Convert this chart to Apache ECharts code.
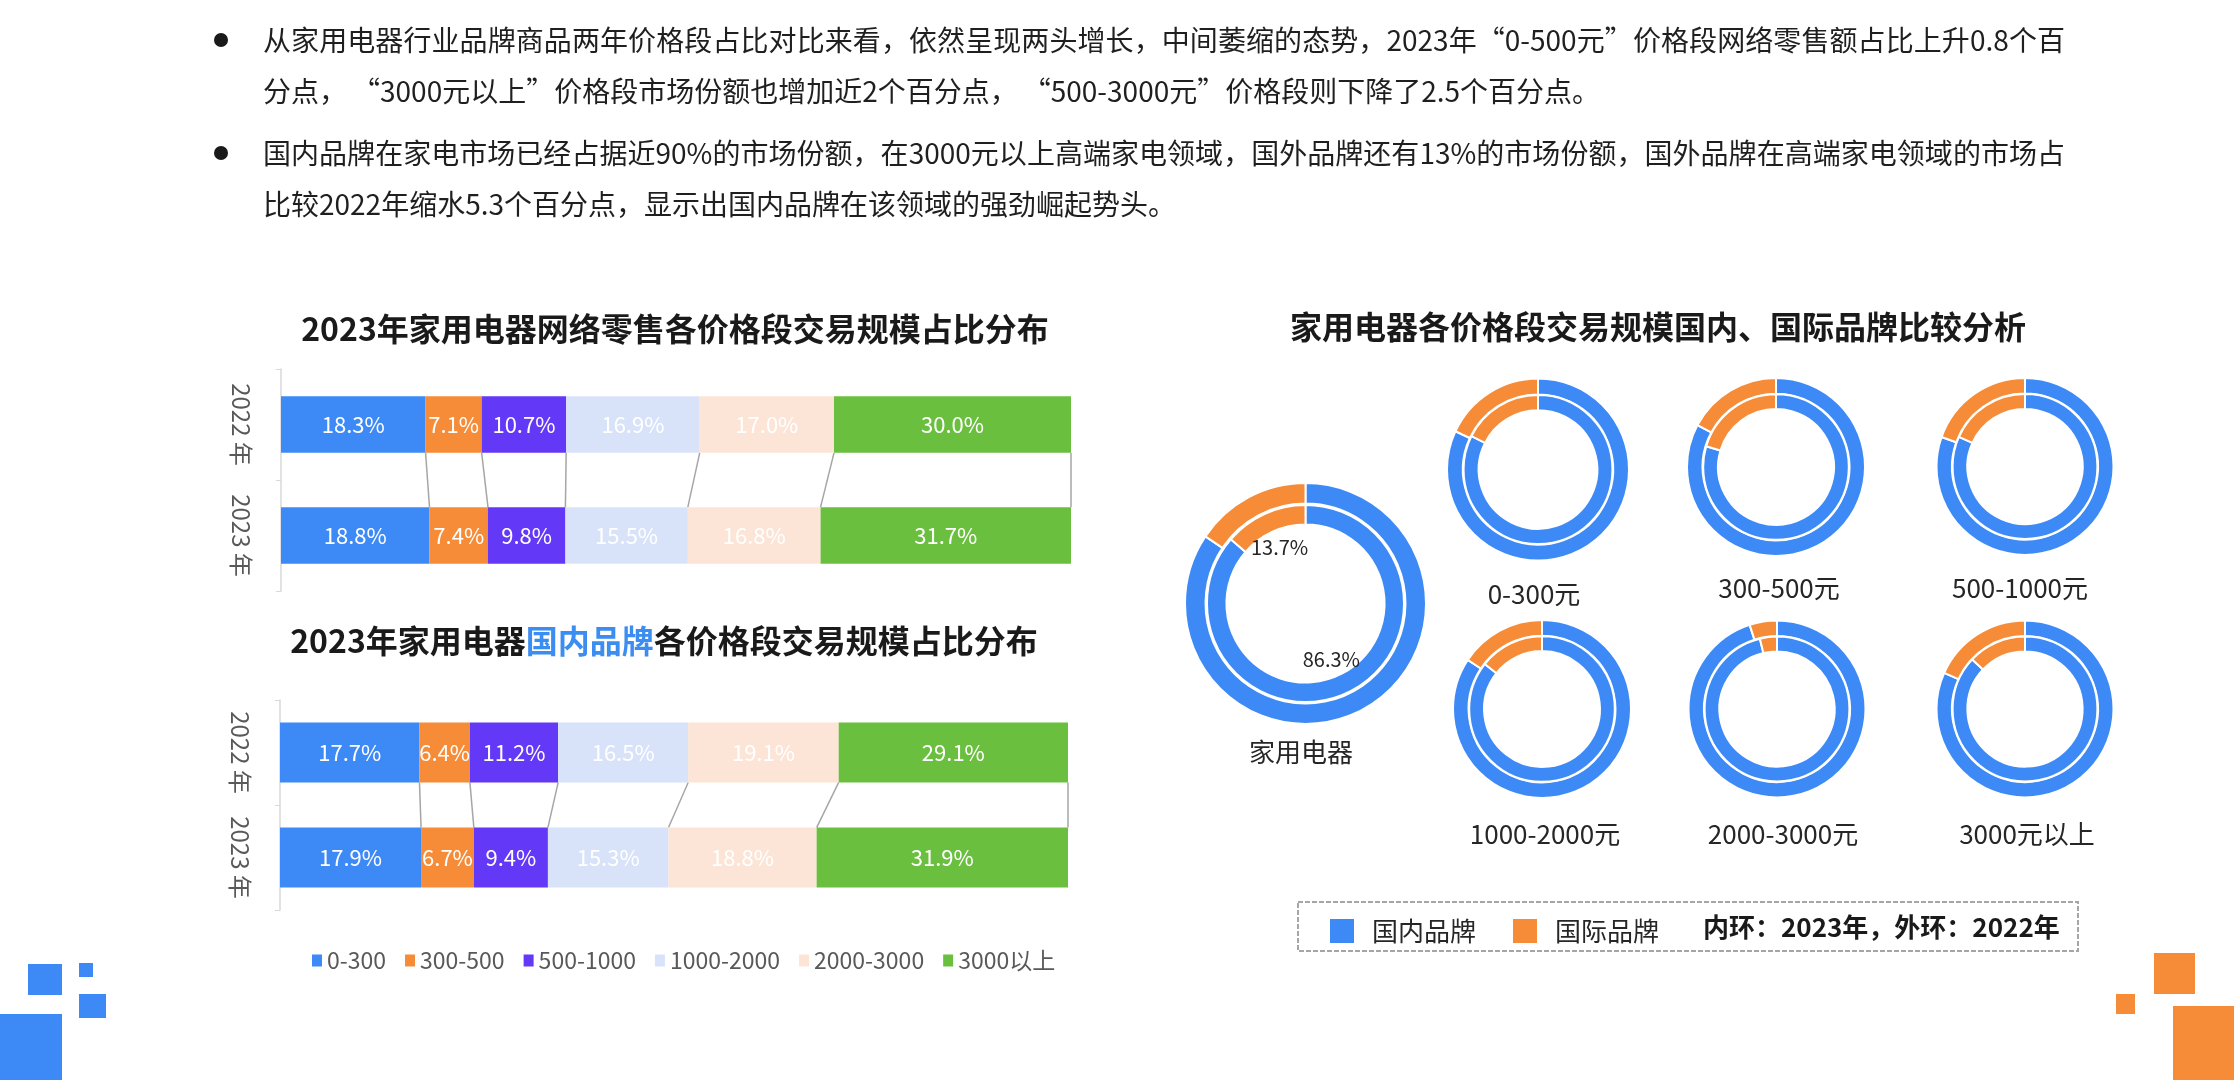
<!DOCTYPE html>
<html>
<head>
<meta charset="utf-8">
<script src="https://cdn.jsdelivr.net/npm/echarts@6/dist/echarts.min.js"></script>
<style>
  html, body { margin: 0; padding: 0; background: #fff; }
  #chart { position: absolute; left: 0; top: 0; width: 2234px; height: 1080px; }
  .notes { position: absolute; left: 263px; width: 1802px; font-family: "Noto Sans CJK SC", sans-serif;
           font-size: 28px; line-height: 51px; color: #1f1f1f; }
  .notes div { white-space: nowrap; }
  .notes .full { text-align: justify; text-align-last: justify; white-space: normal; }
  .notes .gap { display: inline-block; width: 5px; }
</style>
</head>
<body>
<div id="chart"></div>
<div class="notes" style="top:14px;">
  <div class="full">从家用电器行业品牌商品两年价格段占比对比来看，依然呈现两头增长，中间萎缩的态势，2023年“0-500元”价格段网络零售额占比上升0.8个百</div>
  <div>分点，<span class="gap"></span>“3000元以上”价格段市场份额也增加近2个百分点，<span class="gap"></span>“500-3000元”价格段则下降了2.5个百分点。</div>
</div>
<div class="notes" style="top:127px;">
  <div class="full">国内品牌在家电市场已经占据近90%的市场份额，在3000元以上高端家电领域，国外品牌还有13%的市场份额，国外品牌在高端家电领域的市场占</div>
  <div>比较2022年缩水5.3个百分点，显示出国内品牌在该领域的强劲崛起势头。</div>
</div>
<script>
// price bands and years for the two stacked bar charts
const priceBands = ['0-300', '300-500', '500-1000', '1000-2000', '2000-3000', '3000以上']
const years = ['2022 年', '2023 年']
// whole market, % share per band
const all2022 = [18.3, 7.1, 10.7, 16.9, 17.0, 30.0]
const all2023 = [18.8, 7.4, 9.8, 15.5, 16.8, 31.7]
// domestic brands, % share per band
const dom2022 = [17.7, 6.4, 11.2, 16.5, 19.1, 29.1]
const dom2023 = [17.9, 6.7, 9.4, 15.3, 18.8, 31.9]

// donuts: domestic vs international brand share (outer 2022, inner 2023)
const donutNames = ['家用电器', '0-300元', '300-500元', '500-1000元', '1000-2000元', '2000-3000元', '3000元以上']
const domestic2022 = [84.4, 81.9, 82.8, 80.4, 84.3, 95.0, 81.7]
const foreign2022 = [15.6, 18.1, 17.2, 19.6, 15.7, 5.0, 18.3]
const domestic2023 = [86.3, 82.4, 79.6, 81.7, 85.6, 96.2, 87.0]
const foreign2023 = [13.7, 17.6, 20.4, 18.3, 14.4, 3.8, 13.0]

const FONT = '"Noto Sans CJK SC", sans-serif'
const BLUE = '#3D8AF7'
const ORANGE = '#F68C38'
const bandColors = ['#3D8AF7', '#F68C38', '#6338F6', '#D8E3FA', '#FCE5D6', '#6BBF3F']

// [cx, cy, r] and label position of every donut
const donutLayout = [[1305.5, 603.5, 119.5], [1538, 469.5, 90], [1776, 467, 88], [2025, 466.5, 87.5],
  [1542, 709, 88], [1777, 709, 87.5], [2025, 709, 87.5]]
const donutLabelPos = [[1301, 752], [1534, 594], [1779, 588], [2020, 588], [1545, 834], [1783, 834], [2027, 834]]

const chart = echarts.init(document.getElementById('chart'))

function barSeries(v22, v23, idx, stack, width) {
  return priceBands.map((name, i) => ({
    name: name,
    type: 'bar',
    stack: stack,
    xAxisIndex: idx,
    yAxisIndex: idx,
    barWidth: width,
    data: [v22[i], v23[i]],
    itemStyle: { color: bandColors[i] },
    label: {
      show: true,
      position: 'inside',
      color: '#fff',
      fontSize: 22,
      fontFamily: FONT,
      formatter: p => p.value.toFixed(1) + '%'
    },
    emphasis: { disabled: true }
  }))
}

// gray "series lines" joining the segment edges of the two bars
function connectorSeries(v22, v23, idx, ratio) {
  let c1 = 0
  let c2 = 0
  const data = v22.map((v, i) => {
    c1 += v
    c2 += v23[i]
    return [c1, c2, 0]
  })
  return {
    type: 'custom',
    xAxisIndex: idx,
    yAxisIndex: idx,
    silent: true,
    clip: false,
    encode: { x: [0, 1], y: 2 },
    data: data,
    renderItem: function (params, api) {
      const p1 = api.coord([api.value(0), 0])
      const p2 = api.coord([api.value(1), 1])
      const half = api.size([0, 1])[1] * ratio / 2
      return {
        type: 'line',
        shape: { x1: p1[0], y1: p1[1] + half, x2: p2[0], y2: p2[1] - half },
        style: { stroke: '#A6A6A6', lineWidth: 1.5 }
      }
    }
  }
}

function donutSeries() {
  const list = []
  donutNames.forEach((name, i) => {
    const [cx, cy, r] = donutLayout[i]
    const common = {
      type: 'pie',
      center: [cx, cy],
      silent: true,
      label: { show: false },
      labelLine: { show: false },
      emphasis: { disabled: true },
      itemStyle: { borderColor: '#fff', borderWidth: 2 }
    }
    list.push(Object.assign({}, common, {
      name: name + ' 2022',
      radius: [r * 0.845 - 1, r + 1],
      data: [
        { name: '国内品牌', value: domestic2022[i], itemStyle: { color: BLUE } },
        { name: '国际品牌', value: foreign2022[i], itemStyle: { color: ORANGE } }
      ]
    }))
    list.push(Object.assign({}, common, {
      name: name + ' 2023',
      radius: [r * 0.67 - 1, r * 0.816 + 1],
      data: [
        { name: '国内品牌', value: domestic2023[i], itemStyle: { color: BLUE } },
        { name: '国际品牌', value: foreign2023[i], itemStyle: { color: ORANGE } }
      ]
    }))
  })
  // percentage labels inside the big donut (2023 ring)
  const [cx, cy] = donutLayout[0]
  list.push({
    type: 'pie',
    center: [cx, cy],
    radius: [40, 78],
    silent: true,
    emphasis: { disabled: true },
    itemStyle: { color: 'rgba(0,0,0,0)' },
    label: { show: true, position: 'inside', formatter: '{c}%', color: '#262626', fontSize: 20, fontFamily: FONT },
    labelLine: { show: false },
    data: [
      { name: '国内品牌', value: domestic2023[0] },
      { name: '国际品牌', value: foreign2023[0] }
    ]
  })
  return list
}

const titleStyle = { fontSize: 32, fontWeight: 'bold', color: '#1a1a1a', fontFamily: FONT }

const titles = [
  { text: '2023年家用电器网络零售各价格段交易规模占比分布', left: 675, top: 329, textStyle: titleStyle },
  {
    text: '2023年家用电器{b|国内品牌}各价格段交易规模占比分布',
    left: 664,
    top: 641,
    textStyle: Object.assign({}, titleStyle, {
      rich: { b: { fontSize: 32, fontWeight: 'bold', color: '#3B8DF2', fontFamily: FONT } }
    })
  },
  { text: '家用电器各价格段交易规模国内、国际品牌比较分析', left: 1658, top: 327, textStyle: titleStyle }
].concat(donutNames.map((name, i) => ({
  text: name,
  left: donutLabelPos[i][0],
  top: donutLabelPos[i][1],
  textStyle: { fontSize: 26, fontWeight: 'normal', color: '#262626', fontFamily: FONT }
}))).map(t => Object.assign({ textAlign: 'center', textVerticalAlign: 'middle', padding: 0 }, t))

function yAxis(idx) {
  return {
    type: 'category',
    gridIndex: idx,
    data: years,
    inverse: true,
    axisLine: { lineStyle: { color: '#D9D9D9', width: 1.5 } },
    axisTick: { show: true, length: 5, lineStyle: { color: '#D9D9D9' } },
    axisLabel: { interval: 0, rotate: -90, margin: 28, fontSize: 24, color: '#595959', fontFamily: FONT }
  }
}

function xAxis(idx) {
  return { type: 'value', gridIndex: idx, min: 0, max: 100, show: false }
}

const blueBlocks = [[28, 964, 34, 31], [79, 963, 14, 14], [79, 994, 27, 24], [0, 1014, 62, 66]]
const orangeBlocks = [[2154, 953, 41, 41], [2116, 994, 19, 20], [2173, 1006, 61, 74]]

const graphics = []
blueBlocks.concat(orangeBlocks).forEach((b, i) => {
  graphics.push({
    type: 'rect',
    shape: { x: b[0], y: b[1], width: b[2], height: b[3] },
    style: { fill: i < blueBlocks.length ? BLUE : ORANGE },
    silent: true
  })
})
;[40, 153].forEach(y => {
  graphics.push({ type: 'circle', shape: { cx: 221, cy: y, r: 7 }, style: { fill: '#1a1a1a' }, silent: true })
})
graphics.push({
  type: 'rect',
  shape: { x: 1298, y: 902, width: 780, height: 49 },
  style: { fill: 'none', stroke: '#A6A6A6', lineWidth: 2, lineDash: [5, 2] },
  silent: true
})
graphics.push({
  type: 'text',
  x: 1703,
  y: 927,
  style: {
    text: '内环：2023年，外环：2022年',
    fill: '#1a1a1a',
    fontSize: 26,
    fontWeight: 'bold',
    fontFamily: FONT,
    verticalAlign: 'middle'
  },
  silent: true
})

chart.setOption({
  animation: false,
  textStyle: { fontFamily: FONT },
  title: titles,
  legend: [
    {
      data: priceBands,
      left: 307,
      top: 944,
      icon: 'rect',
      itemWidth: 10,
      itemHeight: 12,
      itemGap: 19,
      selectedMode: false,
      textStyle: { fontSize: 23, color: '#595959', fontFamily: FONT }
    },
    {
      data: [
        { name: '国内品牌', itemStyle: { color: BLUE } },
        { name: '国际品牌', itemStyle: { color: ORANGE } }
      ],
      left: 1323,
      top: 912,
      icon: 'rect',
      itemWidth: 26,
      itemHeight: 26,
      itemGap: 35,
      selectedMode: false,
      textStyle: { fontSize: 26, color: '#262626', fontFamily: FONT, padding: [0, 0, 0, 12] }
    }
  ],
  grid: [
    { left: 281, top: 369, width: 790, height: 222 },
    { left: 280, top: 700, width: 788, height: 210 }
  ],
  xAxis: [xAxis(0), xAxis(1)],
  yAxis: [yAxis(0), yAxis(1)],
  series: [].concat(
    barSeries(all2022, all2023, 0, 'all', '51%'),
    barSeries(dom2022, dom2023, 1, 'dom', '57%'),
    [connectorSeries(all2022, all2023, 0, 0.51), connectorSeries(dom2022, dom2023, 1, 0.57)],
    donutSeries()
  ),
  graphic: graphics
})
</script>
</body>
</html>
